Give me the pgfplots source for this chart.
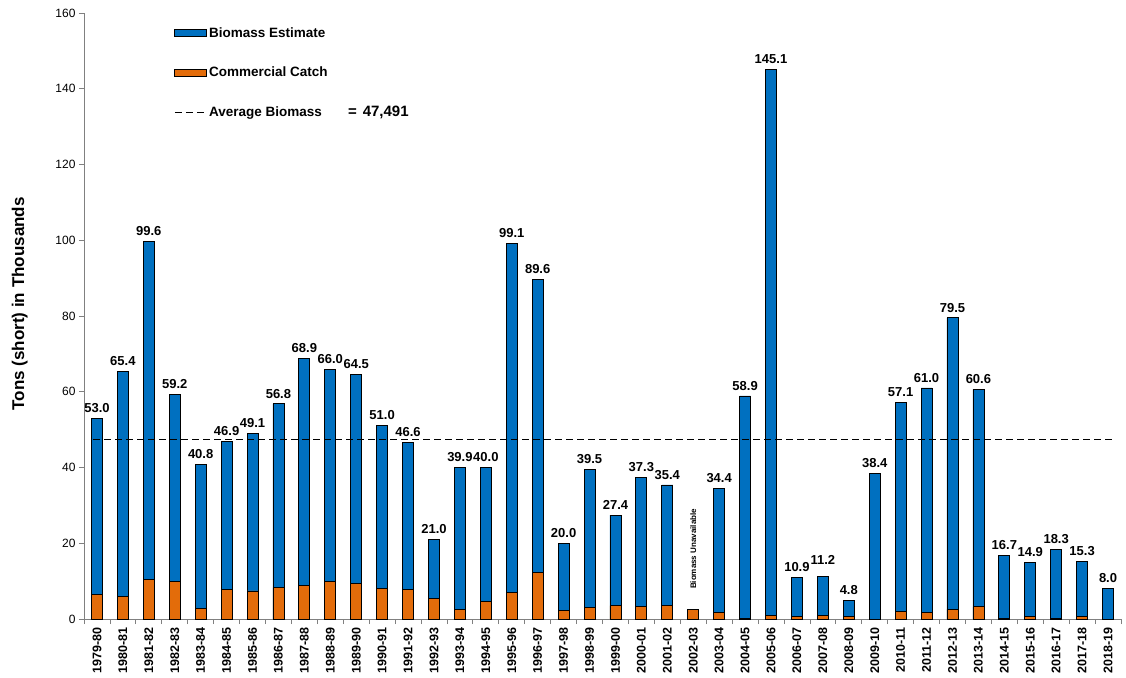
\documentclass[border=0pt]{standalone}
\usepackage{pgfplots}
\pgfplotsset{compat=1.18}
\usepackage{fontspec}
\setmainfont{Liberation Sans}
\definecolor{bioblue}{RGB}{0,112,192}
\definecolor{catchorange}{RGB}{227,108,10}
\begin{document}
\begin{tikzpicture}
\begin{axis}[
  scale only axis, width=1037pt, height=606pt,
  xmin=-0.5, xmax=39.5, ymin=0, ymax=160,
  axis lines=left, axis line style={-, draw=gray, line width=0.8pt},
  ytick={0,20,...,160},
  xtick={-0.5,0.5,...,39.5},
  x tick label as interval,
  xticklabels={1979-80,1980-81,1981-82,1982-83,1983-84,1984-85,1985-86,1986-87,1987-88,1988-89,1989-90,1990-91,1991-92,1992-93,1993-94,1994-95,1995-96,1996-97,1997-98,1998-99,1999-00,2000-01,2001-02,2002-03,2003-04,2004-05,2005-06,2006-07,2007-08,2008-09,2009-10,2010-11,2011-12,2012-13,2013-14,2014-15,2015-16,2016-17,2017-18,2018-19},
  x tick label style={rotate=90, anchor=east, font=\fontsize{12.5}{12.5}\selectfont\bfseries},
  y tick label style={font=\fontsize{12}{12}\selectfont},
  /pgf/number format/assume math mode=true,
  tick align=outside,
  major tick length=5pt,
  tick style={draw=gray, line width=0.8pt},
  ylabel={Tons (short) in Thousands},
  ylabel style={at={(axis description cs:-0.062,0.52)}, anchor=center, font=\fontsize{17}{17}\selectfont\bfseries},
  legend style={draw=none, fill=none, at={(axis description cs:0.084,0.983)}, anchor=north west, row sep=24pt, font=\fontsize{13.5}{13.5}\selectfont\bfseries},
  legend cell align=left,
]
\addplot[ybar, bar width=11pt, bar shift=0pt, fill=bioblue, draw=black, line width=0.8pt,
  nodes near coords, point meta=explicit symbolic,
  nodes near coords style={font=\fontsize{13}{13}\selectfont\bfseries, anchor=south, yshift=2pt},
  legend image code/.code={\draw[fill=bioblue, draw=black, line width=0.8pt] (0pt,-3.5pt) rectangle (32pt,3.5pt);}]
coordinates {
(0,53.0)[53.0] (1,65.4)[65.4] (2,99.6)[99.6] (3,59.2)[59.2] (4,40.8)[40.8]
(5,46.9)[46.9] (6,49.1)[49.1] (7,56.8)[56.8] (8,68.9)[68.9] (9,66.0)[66.0]
(10,64.5)[64.5] (11,51.0)[51.0] (12,46.6)[46.6] (13,21.0)[21.0] (14,39.9)[39.9]
(15,40.0)[40.0] (16,99.1)[99.1] (17,89.6)[89.6] (18,20.0)[20.0] (19,39.5)[39.5]
(20,27.4)[27.4] (21,37.3)[37.3] (22,35.4)[35.4] (24,34.4)[34.4]
(25,58.9)[58.9] (26,145.1)[145.1] (27,10.9)[10.9] (28,11.2)[] (29,4.8)[4.8]
(30,38.4)[38.4] (31,57.1)[57.1] (32,61.0)[61.0] (33,79.5)[79.5] (34,60.6)[60.6]
(35,16.7)[16.7] (36,14.9)[14.9] (37,18.3)[18.3] (38,15.3)[15.3] (39,8.0)[8.0]
};
\addlegendentry{Biomass Estimate}
\addplot[ybar, bar width=11pt, bar shift=0pt, fill=catchorange, draw=black, line width=0.8pt,
  legend image code/.code={\draw[fill=catchorange, draw=black, line width=0.8pt] (0pt,-3.5pt) rectangle (32pt,3.5pt);}]
coordinates {
(0,6.4) (1,6.0) (2,10.5) (3,9.9) (4,2.9) (5,7.7) (6,7.4) (7,8.3) (8,8.9) (9,9.9)
(10,9.5) (11,8.1) (12,7.9) (13,5.5) (14,2.6) (15,4.7) (16,6.9) (17,12.4) (18,2.3) (19,3.1)
(20,3.5) (21,3.3) (22,3.5) (23,2.5) (24,1.7) (25,0.2) (26,0.9) (27,0.6) (28,0.9) (29,0.7)
(31,1.9) (32,1.8) (33,2.6) (34,3.2) (35,0.25) (36,0.7) (37,0.25) (38,0.7)
};
\addlegendentry{Commercial Catch}
\addplot[black, line width=0.9pt, dash pattern=on 7pt off 4pt,
  legend image code/.code={\draw[black, line width=0.9pt, dash pattern=on 7pt off 4pt] (0pt,0pt) -- (32pt,0pt);}]
coordinates {(-0.15,47.491) (39.15,47.491)};
\addlegendentry{Average Biomass\hspace*{26pt}{\fontsize{15}{15}\selectfont =\hspace{6pt}47,491}}
\node[rotate=90, font=\fontsize{8}{8}\selectfont\bfseries] at (axis cs:23,18.5) {Biomass Unavailable};
\node[anchor=south, yshift=9pt, font=\fontsize{13}{13}\selectfont\bfseries] at (axis cs:28,11.2) {11.2};
\end{axis}
\pgfresetboundingbox
\useasboundingbox (-84pt,-58pt) rectangle (1042pt,619pt);
\end{tikzpicture}
\end{document}
